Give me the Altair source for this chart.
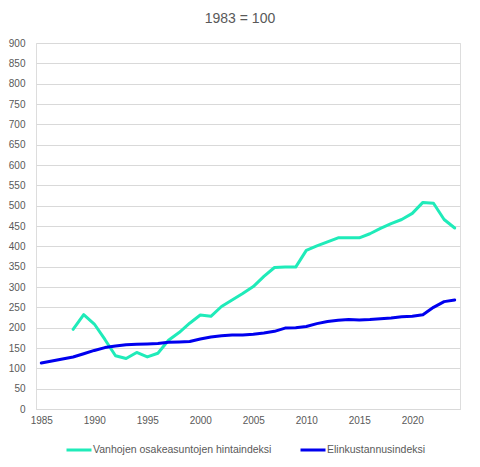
import altair as alt
import pandas as pd

years = list(range(1985, 2025))
series_names = ["Vanhojen osakeasuntojen hintaindeksi", "Elinkustannusindeksi"]

green_years = list(range(1988, 2025))
green_values = [196, 232, 209, 171, 131, 124, 139, 128, 137, 169, 188, 211, 231, 228,
                252, 268, 284, 301, 326, 348, 349, 349, 390, 401, 411, 421, 421, 421,
                431, 444, 456, 466, 481, 508, 506, 466, 445]

blue_values = [113, 118, 123, 128, 136, 144, 151, 155, 158, 159,
               160, 161, 164, 165, 166, 172, 177, 180, 182, 182,
               184, 187, 191, 199, 200, 203, 210, 215, 218, 220,
               219, 220, 222, 224, 227, 228, 232, 250, 264, 268]

x_ticks = [1985, 1990, 1995, 2000, 2005, 2010, 2015, 2020]
y_ticks = list(range(0, 901, 50))

rows = []
for y, v in zip(green_years, green_values):
    rows.append({"year": y, "value": v, "series": series_names[0]})
for y, v in zip(years, blue_values):
    rows.append({"year": y, "value": v, "series": series_names[1]})
df = pd.DataFrame(rows)

font = "Liberation Sans"
gray = "#595959"

chart = alt.Chart(df).mark_line(strokeWidth=3, strokeJoin="round", strokeCap="round").encode(
    x=alt.X("year:Q",
            scale=alt.Scale(domain=[1984.5, 2024.5], nice=False, zero=False),
            axis=alt.Axis(values=x_ticks, format="d", title=None, grid=False,
                          ticks=False, domainColor="#D9D9D9", domainWidth=1,
                          labelFont=font, labelFontSize=10, labelColor=gray,
                          labelPadding=6)),
    y=alt.Y("value:Q",
            scale=alt.Scale(domain=[0, 900], nice=False),
            axis=alt.Axis(values=y_ticks, title=None, domain=False, ticks=False,
                          gridColor="#D9D9D9", gridWidth=1,
                          labelFont=font, labelFontSize=10, labelColor=gray,
                          labelPadding=11)),
    color=alt.Color("series:N",
                    scale=alt.Scale(domain=series_names, range=["#1FEBB9", "#0000EE"]),
                    legend=alt.Legend(title=None, orient="none", direction="horizontal",
                                      legendX=29, legendY=393,
                                      symbolType="stroke", symbolSize=625,
                                      symbolStrokeWidth=3, labelFont=font,
                                      labelFontSize=10.5, labelColor=gray,
                                      labelOffset=0, labelLimit=400,
                                      columnPadding=22)),
    detail="series:N",
).properties(
    width=424,
    height=366,
    title=alt.TitleParams("1983 = 100", font=font, fontSize=14, fontWeight="normal",
                          color=gray, anchor="middle", dx=-8, offset=12),
    autosize=alt.AutoSizeParams(type="none"),
    padding={"left": 28, "top": 35, "right": 12, "bottom": 50},
).configure_view(stroke=None).configure(background="white")

chart.save("out.html", embed_options={"renderer": "svg", "actions": False})
